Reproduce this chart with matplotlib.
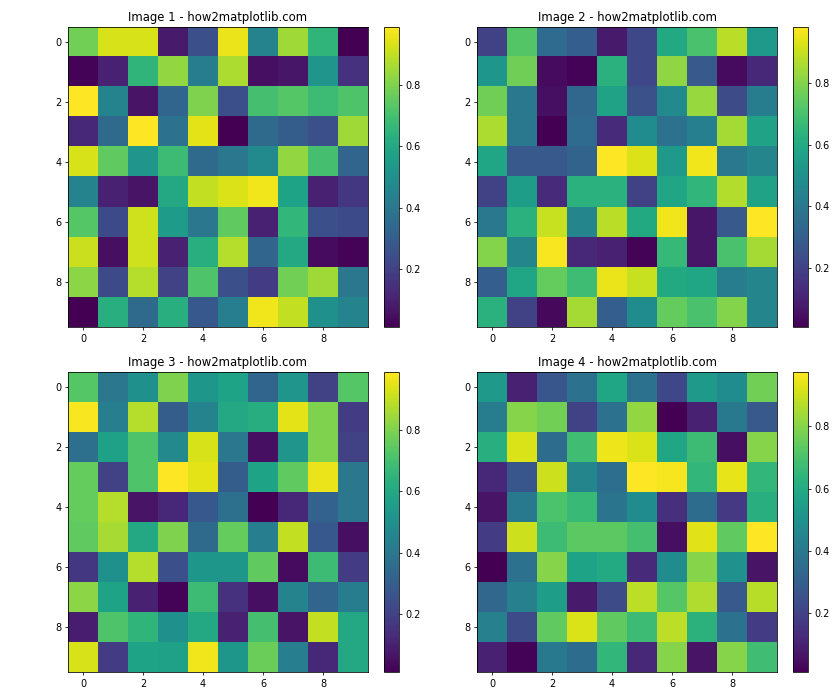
import numpy as np
import matplotlib
matplotlib.use("Agg")
import matplotlib.pyplot as plt

# Values (10x10 each, viridis scale).
image1 = [
    [0.78, 0.93, 0.93, 0.08, 0.25, 0.96, 0.45, 0.85, 0.65, 0.01],
    [0.02, 0.10, 0.65, 0.83, 0.42, 0.87, 0.05, 0.07, 0.52, 0.15],
    [0.99, 0.45, 0.06, 0.33, 0.80, 0.25, 0.70, 0.73, 0.68, 0.72],
    [0.12, 0.35, 0.99, 0.38, 0.95, 0.01, 0.35, 0.30, 0.25, 0.85],
    [0.93, 0.75, 0.52, 0.68, 0.35, 0.40, 0.48, 0.83, 0.70, 0.33],
    [0.45, 0.10, 0.06, 0.60, 0.90, 0.94, 0.97, 0.58, 0.10, 0.17],
    [0.73, 0.23, 0.92, 0.55, 0.40, 0.75, 0.10, 0.66, 0.25, 0.23],
    [0.91, 0.05, 0.92, 0.10, 0.63, 0.88, 0.33, 0.60, 0.04, 0.02],
    [0.82, 0.23, 0.88, 0.20, 0.72, 0.25, 0.18, 0.78, 0.85, 0.40],
    [0.01, 0.63, 0.35, 0.63, 0.28, 0.43, 0.97, 0.90, 0.50, 0.45],
]

image2 = [
    [0.20, 0.72, 0.35, 0.30, 0.08, 0.22, 0.60, 0.70, 0.88, 0.53],
    [0.52, 0.77, 0.04, 0.02, 0.63, 0.22, 0.82, 0.28, 0.04, 0.12],
    [0.77, 0.40, 0.05, 0.33, 0.57, 0.25, 0.47, 0.83, 0.23, 0.42],
    [0.86, 0.40, 0.01, 0.35, 0.13, 0.48, 0.37, 0.43, 0.85, 0.57],
    [0.58, 0.28, 0.28, 0.32, 0.98, 0.93, 0.53, 0.96, 0.40, 0.45],
    [0.20, 0.55, 0.13, 0.63, 0.63, 0.20, 0.58, 0.65, 0.87, 0.57],
    [0.40, 0.63, 0.90, 0.45, 0.88, 0.60, 0.96, 0.07, 0.28, 0.98],
    [0.80, 0.45, 0.97, 0.12, 0.10, 0.02, 0.66, 0.07, 0.70, 0.85],
    [0.30, 0.58, 0.75, 0.68, 0.95, 0.90, 0.60, 0.58, 0.42, 0.45],
    [0.63, 0.20, 0.03, 0.85, 0.30, 0.48, 0.75, 0.70, 0.80, 0.45],
]

image3 = [
    [0.73, 0.40, 0.50, 0.80, 0.53, 0.58, 0.33, 0.52, 0.20, 0.73],
    [0.98, 0.43, 0.88, 0.30, 0.45, 0.60, 0.62, 0.95, 0.80, 0.18],
    [0.37, 0.57, 0.72, 0.47, 0.93, 0.40, 0.05, 0.52, 0.80, 0.20],
    [0.76, 0.20, 0.72, 0.99, 0.95, 0.30, 0.58, 0.75, 0.96, 0.40],
    [0.76, 0.88, 0.06, 0.12, 0.28, 0.37, 0.01, 0.12, 0.32, 0.40],
    [0.75, 0.86, 0.60, 0.80, 0.35, 0.76, 0.43, 0.90, 0.28, 0.05],
    [0.17, 0.50, 0.88, 0.25, 0.53, 0.53, 0.75, 0.04, 0.68, 0.18],
    [0.82, 0.58, 0.10, 0.02, 0.68, 0.15, 0.05, 0.45, 0.33, 0.42],
    [0.09, 0.72, 0.65, 0.50, 0.60, 0.10, 0.70, 0.06, 0.90, 0.60],
    [0.93, 0.18, 0.58, 0.57, 0.97, 0.53, 0.77, 0.43, 0.12, 0.60],
]

image4 = [
    [0.53, 0.10, 0.27, 0.37, 0.58, 0.37, 0.22, 0.53, 0.48, 0.77],
    [0.42, 0.80, 0.77, 0.20, 0.37, 0.82, 0.01, 0.10, 0.40, 0.28],
    [0.62, 0.92, 0.35, 0.68, 0.95, 0.92, 0.58, 0.67, 0.05, 0.80],
    [0.12, 0.27, 0.90, 0.45, 0.36, 0.975, 0.96, 0.65, 0.94, 0.65],
    [0.06, 0.40, 0.70, 0.66, 0.38, 0.48, 0.14, 0.35, 0.17, 0.62],
    [0.18, 0.90, 0.67, 0.73, 0.73, 0.69, 0.05, 0.93, 0.74, 0.975],
    [0.01, 0.37, 0.80, 0.57, 0.60, 0.13, 0.48, 0.80, 0.50, 0.06],
    [0.33, 0.43, 0.55, 0.08, 0.23, 0.88, 0.72, 0.86, 0.28, 0.87],
    [0.43, 0.23, 0.74, 0.92, 0.74, 0.67, 0.88, 0.63, 0.37, 0.18],
    [0.10, 0.02, 0.40, 0.35, 0.65, 0.12, 0.80, 0.06, 0.80, 0.68],
]

images = [image1, image2, image3, image4]

W, H = 840, 700
fig = plt.figure(figsize=(12, 10), dpi=70)


def px_axes(left, top, width, height):
    # pixel box (from top-left) -> figure fraction
    return fig.add_axes([left / W, 1 - (top + height) / H, width / W, height / H])


# image boxes (left, top) in pixels, 300x300 each, with colorbar to the right
boxes = [(68, 27), (477, 27), (68, 372), (477, 372)]
cbar_gap = 16

for i, (left, top) in enumerate(boxes):
    ax = px_axes(left, top, 300, 300)
    cax = px_axes(left + 300 + cbar_gap, top, 15, 300)
    im = ax.imshow(np.array(images[i]), cmap="viridis")
    ax.set_title(f"Image {i + 1} - how2matplotlib.com")
    fig.colorbar(im, cax=cax)

plt.savefig("out.png", dpi=70)
